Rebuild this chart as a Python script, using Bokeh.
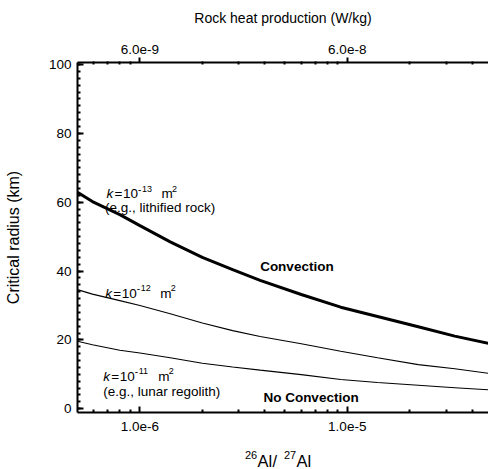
from bokeh.plotting import figure
from bokeh.layouts import column
from bokeh.models import (Range1d, LogScale, LogAxis, FixedTicker,
                          CustomJSTickFormatter, ColumnDataSource, Div)
from bokeh.core.properties import value
from bokeh.embed import file_html
from bokeh.resources import INLINE

# ---------------- data ----------------
al_ratio = [5.0e-7, 5.9e-7, 8.0e-7, 1.0e-6, 1.4e-6, 2.0e-6, 2.8e-6, 3.8e-6,
            6.0e-6, 9.3e-6, 1.4e-5, 2.2e-5, 3.3e-5, 4.8e-5]
r_k13 = [62.9, 60.2, 56.4, 53.2, 48.5, 44.0, 40.4, 37.3,
         33.2, 29.5, 26.8, 23.8, 21.1, 19.0]
r_k12 = [34.6, 33.3, 31.4, 30.0, 27.6, 24.9, 22.7, 21.0,
         18.9, 16.7, 14.8, 12.8, 11.6, 10.3]
r_k11 = [19.6, 18.6, 17.0, 16.2, 14.8, 13.2, 12.1, 11.2,
         9.9, 8.5, 7.6, 6.8, 6.1, 5.5]

x_range_lim = [5.0e-7, 4.8e-5]
x_ticks = [1.0e-6, 1.0e-5]
x_minor = [6e-7, 7e-7, 8e-7, 9e-7,
           2e-6, 3e-6, 4e-6, 5e-6, 6e-6, 7e-6, 8e-6, 9e-6,
           2e-5, 3e-5, 4e-5]
heat_per_ratio = 6.0e-3
heat_ticks = [6.0e-9, 6.0e-8]
y_ticks = [0, 20, 40, 60, 80, 100]
y_minor = list(range(0, 101, 2))

FONT = "Liberation Sans"

# ---------------- main figure ----------------
p = figure(width=488, height=440, x_axis_type="log",
           x_range=Range1d(*x_range_lim), y_range=Range1d(-1.1, 100.6),
           output_backend="svg", toolbar_location=None,
           min_border_left=77, min_border_right=0,
           min_border_top=62, min_border_bottom=28)
p.outline_line_color = None
p.grid.visible = False
p.background_fill_color = "white"
p.border_fill_color = "white"

fmt = CustomJSTickFormatter(code="return tick.toExponential(1);")

def style_axis(ax):
    ax.axis_line_width = 2
    ax.axis_line_color = "black"
    ax.major_tick_line_width = 2
    ax.minor_tick_line_width = 2
    ax.major_label_text_font = FONT
    ax.major_label_text_font_size = "13.5px"
    ax.major_label_text_color = "black"
    ax.axis_label_text_font = FONT
    ax.axis_label_text_font_style = "normal"
    ax.axis_label_text_color = "black"

bx = p.xaxis[0]
bx.ticker = FixedTicker(ticks=x_ticks, minor_ticks=x_minor)
bx.formatter = fmt
style_axis(bx)
bx.major_tick_in = 6
bx.major_tick_out = 0
bx.minor_tick_in = 3
bx.minor_tick_out = 0
bx.major_label_standoff = 9

p.extra_x_ranges = {"heat": Range1d(x_range_lim[0] * heat_per_ratio,
                                    x_range_lim[1] * heat_per_ratio)}
p.extra_x_scales = {"heat": LogScale()}
heat_minor = [t * heat_per_ratio for t in x_minor]
tx = LogAxis(x_range_name="heat",
             ticker=FixedTicker(ticks=heat_ticks, minor_ticks=heat_minor),
             formatter=fmt, axis_label="Rock heat production (W/kg)")
style_axis(tx)
tx.major_tick_in = 0
tx.major_tick_out = 5
tx.minor_tick_in = 2
tx.minor_tick_out = 1
tx.major_label_standoff = 4
tx.axis_label_text_font_size = "14px"
tx.axis_label_standoff = 16
p.add_layout(tx, "above")

ly = p.yaxis[0]
ly.ticker = FixedTicker(ticks=y_ticks, minor_ticks=y_minor)
style_axis(ly)
ly.major_tick_in = 6
ly.major_tick_out = 0
ly.minor_tick_in = 3
ly.minor_tick_out = 0
ly.major_label_standoff = 6
ly.axis_label = "Critical radius (km)"
ly.axis_label_text_font_size = "16px"
ly.axis_label_standoff = 24

# ---------------- curves ----------------
p.line(al_ratio, r_k13, line_width=3, line_color="black")
p.line(al_ratio, r_k12, line_width=1.1, line_color="black")
p.line(al_ratio, r_k11, line_width=1.1, line_color="black")

# ---------------- annotations ----------------
tx_x, tx_y, tx_t, tx_dx, tx_dy, tx_sz, tx_st = [], [], [], [], [], [], []

def piece(x, y, t, dx=0, dy=0, size="13.5px", style="normal"):
    tx_x.append(x); tx_y.append(y); tx_t.append(t)
    tx_dx.append(dx); tx_dy.append(dy); tx_sz.append(size); tx_st.append(style)

def k_label(x, y, exp):
    piece(x, y, "k", 0, 0, style="italic")
    piece(x, y, "=", 8)
    piece(x, y, "10", 16.5)
    piece(x, y, "-", 31.5, -5, "10px")
    piece(x, y, exp, 35.5, -5, "9px")
    piece(x, y, "m", 55)
    piece(x, y, "2", 65.5, -5, "9px")

k_label(6.9e-7, 62.5, "13")
piece(6.78e-7, 58.4, "(e.g., lithified rock)")
k_label(6.8e-7, 33.6, "12")
k_label(6.65e-7, 9.4, "11")
piece(6.65e-7, 5.0, "(e.g., lunar regolith)")
piece(3.8e-6, 41.4, "Convection", style="bold")
piece(3.94e-6, 3.4, "No Convection", style="bold")

src = ColumnDataSource(dict(x=tx_x, y=tx_y, text=tx_t, dx=tx_dx, dy=tx_dy,
                            size=tx_sz, style=tx_st))
p.text(x="x", y="y", text="text", x_offset="dx", y_offset="dy",
       text_font_size="size", text_font_style="style", text_font=value(FONT),
       text_baseline="alphabetic", text_align="left", text_color="black",
       source=src)

# ---------------- x-axis title: 26Al/27Al (HTML with superscripts) ----------------
span = ("position:absolute;font-family:'Liberation Sans';color:black;"
        "white-space:nowrap;")
title_html = (
    '<div style="position:relative;width:488px;height:29px;">'
    f'<span style="{span}left:245px;top:10px;font-size:11px;line-height:11px;">26</span>'
    f'<span style="{span}left:257.5px;top:13px;font-size:16.5px;line-height:16.5px;">Al</span>'
    f'<span style="{span}left:272.5px;top:13px;font-size:16.5px;line-height:16.5px;">/</span>'
    f'<span style="{span}left:284px;top:10px;font-size:11px;line-height:11px;">27</span>'
    f'<span style="{span}left:296.5px;top:13px;font-size:16.5px;line-height:16.5px;">Al</span>'
    '</div>')
xtitle = Div(text=title_html, width=488, height=29, margin=0)

open("out.html", "w").write(file_html(column(p, xtitle, spacing=0), INLINE))
